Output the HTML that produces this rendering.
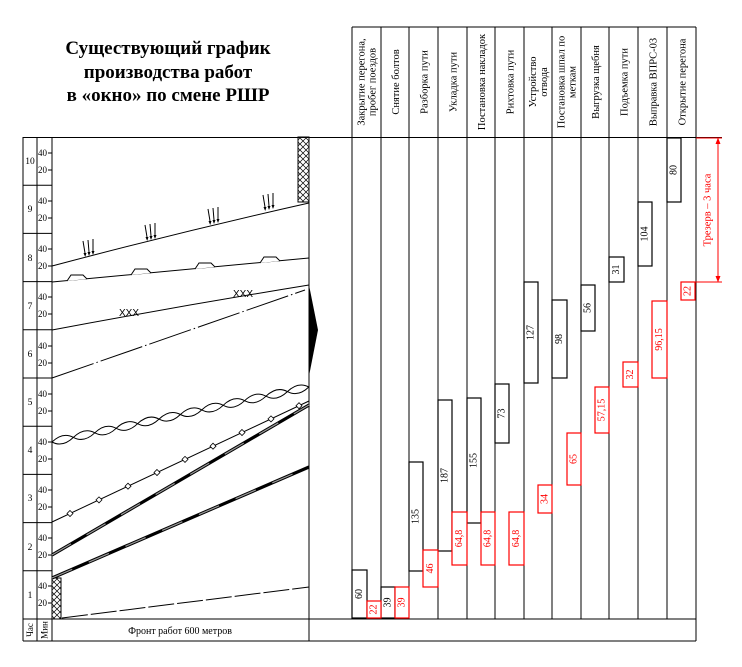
<!DOCTYPE html>
<html><head><meta charset="utf-8"><style>
html,body{margin:0;padding:0;background:#fff;}
svg{display:block;font-family:"Liberation Serif",serif;}
</style></head><body>
<svg width="742" height="667" viewBox="0 0 742 667" xmlns="http://www.w3.org/2000/svg">
<defs>
<pattern id="hx" width="6" height="6" patternUnits="userSpaceOnUse"><path d="M0,0 L6,6 M6,0 L0,6" stroke="#000" stroke-width="0.7"/></pattern>
</defs>
<g font-weight="bold" font-size="19" text-anchor="middle">
<text x="168" y="54">Существующий график</text>
<text x="168" y="78">производства работ</text>
<text x="168" y="101">в «окно» по смене РШР</text>
</g>
<g stroke="#000" stroke-width="1" fill="none">
<line x1="23" y1="137.5" x2="722" y2="137.5"/>
<line x1="23" y1="619" x2="696" y2="619"/>
<line x1="23" y1="641" x2="696" y2="641"/>
<line x1="23" y1="137" x2="23" y2="641"/>
<line x1="37" y1="137" x2="37" y2="641"/>
<line x1="52" y1="137" x2="52" y2="641"/>
<line x1="309" y1="137" x2="309" y2="641"/>
<line x1="352" y1="27" x2="696" y2="27"/>
<line x1="352" y1="27" x2="352" y2="619"/><line x1="381" y1="27" x2="381" y2="619"/><line x1="409" y1="27" x2="409" y2="619"/><line x1="438" y1="27" x2="438" y2="619"/><line x1="467" y1="27" x2="467" y2="619"/><line x1="495" y1="27" x2="495" y2="619"/><line x1="524" y1="27" x2="524" y2="619"/><line x1="552" y1="27" x2="552" y2="619"/><line x1="581" y1="27" x2="581" y2="619"/><line x1="609" y1="27" x2="609" y2="619"/><line x1="638" y1="27" x2="638" y2="619"/><line x1="667" y1="27" x2="667" y2="619"/><line x1="696" y1="27" x2="696" y2="641"/>
<line x1="23" y1="185.2" x2="52" y2="185.2"/><line x1="23" y1="233.4" x2="52" y2="233.4"/><line x1="23" y1="281.6" x2="52" y2="281.6"/><line x1="23" y1="329.8" x2="52" y2="329.8"/><line x1="23" y1="378" x2="52" y2="378"/><line x1="23" y1="426.2" x2="52" y2="426.2"/><line x1="23" y1="474.4" x2="52" y2="474.4"/><line x1="23" y1="522.6" x2="52" y2="522.6"/><line x1="23" y1="570.8" x2="52" y2="570.8"/>
</g>
<g font-size="9.5" text-anchor="middle">
<text x="30" y="164">10</text><text x="30" y="212">9</text><text x="30" y="261">8</text><text x="30" y="309">7</text><text x="30" y="357">6</text><text x="30" y="405">5</text><text x="30" y="453">4</text><text x="30" y="501">3</text><text x="30" y="550">2</text><text x="30" y="598">1</text>
</g>
<g font-size="9">
<text x="38" y="156">40</text><text x="38" y="173">20</text>
<text x="38" y="204">40</text><text x="38" y="221">20</text>
<text x="38" y="252">40</text><text x="38" y="269">20</text>
<text x="38" y="300">40</text><text x="38" y="317">20</text>
<text x="38" y="349">40</text><text x="38" y="366">20</text>
<text x="38" y="397">40</text><text x="38" y="414">20</text>
<text x="38" y="445">40</text><text x="38" y="462">20</text>
<text x="38" y="493">40</text><text x="38" y="510">20</text>
<text x="38" y="541">40</text><text x="38" y="558">20</text>
<text x="38" y="589">40</text><text x="38" y="606">20</text>
</g>
<g stroke="#000" stroke-width="1">
<path d="M48,153 H52 M48,170 H52 M48,201 H52 M48,218 H52 M48,249 H52 M48,266 H52 M48,297 H52 M48,314 H52 M48,346 H52 M48,363 H52 M48,394 H52 M48,411 H52 M48,442 H52 M48,459 H52 M48,490 H52 M48,507 H52 M48,538 H52 M48,555 H52 M48,586 H52 M48,603 H52"/>
</g>
<g font-size="9" text-anchor="middle">
<text transform="translate(30,630) rotate(-90)" dominant-baseline="central">Час</text>
<text transform="translate(44.5,630) rotate(-90)" dominant-baseline="central">Мин</text>
<text x="180" y="634" font-size="10">Фронт работ 600 метров</text>
</g>
<rect x="298" y="137" width="11" height="65" fill="url(#hx)" stroke="#000" stroke-width="1"/>
<rect x="52" y="578" width="9" height="41" fill="url(#hx)" stroke="#000" stroke-width="1"/>
<g stroke="#000" fill="none" stroke-width="1">
<path d="M52,266 Q180,232 309,203"/>
<path d="M52,282 L309,258"/>
<path d="M52,330 Q180,306 309,285"/>
<line x1="52" y1="378" x2="305" y2="290" stroke-dasharray="44,3,1.5,3"/>
<path d="M52,442 Q62.7,431.7 73.4,437.4 Q84.1,443.1 94.8,432.8 Q105.5,422.5 116.2,428.3 Q126.9,434 137.6,423.7 Q148.3,413.4 159,419.1 Q169.7,424.8 180.4,414.5 Q191.1,404.2 201.8,409.9 Q212.5,415.6 223.2,405.3 Q233.9,395 244.6,400.7 Q255.3,406.4 266,396.2 Q276.7,385.9 287.4,391.6 Q298.1,397.3 308.8,387"/>
<path d="M52,442 Q62.7,447.7 73.4,437.4 Q84.1,427.1 94.8,432.8 Q105.5,438.5 116.2,428.3 Q126.9,418 137.6,423.7 Q148.3,429.4 159,419.1 Q169.7,408.8 180.4,414.5 Q191.1,420.2 201.8,409.9 Q212.5,399.6 223.2,405.3 Q233.9,411 244.6,400.7 Q255.3,390.4 266,396.2 Q276.7,401.9 287.4,391.6 Q298.1,381.3 308.8,387"/>
<line x1="52" y1="522" x2="309" y2="401"/>
<line x1="52" y1="555" x2="309" y2="405" stroke-width="3.2"/>
<line x1="52" y1="555" x2="309" y2="405" stroke="#999" stroke-width="1.2" stroke-dasharray="22 18"/>
<line x1="52" y1="578" x2="309" y2="467" stroke-width="3.2"/>
<line x1="52" y1="578" x2="309" y2="467" stroke="#999" stroke-width="1.2" stroke-dasharray="22 18"/>
<line x1="62" y1="618" x2="309" y2="587" stroke-dasharray="26 3"/>
</g>
<polygon points="309,285 318,330 309,376" fill="#000"/>
<g fill="#fff" stroke="#000" stroke-width="0.8">
<polygon points="70,510.5 73,513.5 70,516.5 67,513.5"/><polygon points="99,496.9 102,499.9 99,502.9 96,499.9"/><polygon points="128,483.2 131,486.2 128,489.2 125,486.2"/><polygon points="157,469.5 160,472.5 157,475.5 154,472.5"/><polygon points="185,456.4 188,459.4 185,462.4 182,459.4"/><polygon points="213,443.2 216,446.2 213,449.2 210,446.2"/><polygon points="242,429.5 245,432.5 242,435.5 239,432.5"/><polygon points="271,415.9 274,418.9 271,421.9 268,418.9"/><polygon points="299,402.7 302,405.7 299,408.7 296,405.7"/>
</g>
<g fill="#fff" stroke="#000" stroke-width="1">
<path d="M67,281 L71,275 L83,275 L87,279"/>
<path d="M131,275 L135,269 L147,269 L151,273"/>
<path d="M195,269 L199,263 L211,263 L215,267"/>
<path d="M260,263 L264,257 L276,257 L280,261"/>
</g>
<g stroke="#000" stroke-width="1">
<line x1="83" y1="241" x2="85" y2="253"/><line x1="88" y1="240" x2="89" y2="252"/><line x1="93" y1="239" x2="93" y2="251"/>
<line x1="145" y1="225" x2="147" y2="237"/><line x1="150" y1="224" x2="151" y2="236"/><line x1="155" y1="223" x2="155" y2="235"/>
<line x1="208" y1="209" x2="210" y2="221"/><line x1="213" y1="208" x2="214" y2="220"/><line x1="218" y1="207" x2="218" y2="219"/>
<line x1="263" y1="195" x2="265" y2="207"/><line x1="268" y1="194" x2="269" y2="206"/><line x1="273" y1="193" x2="273" y2="205"/>
</g>
<g fill="#000">
<path d="M83.5,253 h3 l-1.3,4z M87.5,252 h3 l-1.5,4z M91.5,251 h3 l-1.5,4z"/>
<path d="M145.5,237 h3 l-1.3,4z M149.5,236 h3 l-1.5,4z M153.5,235 h3 l-1.5,4z"/>
<path d="M208.5,221 h3 l-1.3,4z M212.5,220 h3 l-1.5,4z M216.5,219 h3 l-1.5,4z"/>
<path d="M263.5,207 h3 l-1.3,4z M267.5,206 h3 l-1.5,4z M271.5,205 h3 l-1.5,4z"/>
</g>
<g font-size="10" text-anchor="middle" font-family="Liberation Sans,sans-serif">
<text x="129" y="316">XXX</text><text x="243" y="297">XXX</text>
</g>
<g font-size="10.5" text-anchor="middle">
<text transform="translate(366.5,82) rotate(-90)"><tspan x="0" dy="-2">Закрытие перегона,</tspan><tspan x="0" dy="11">пробег поездов</tspan></text>
<text transform="translate(395,82) rotate(-90)" dy="4">Снятие болтов</text>
<text transform="translate(423.5,82) rotate(-90)" dy="4">Разборка пути</text>
<text transform="translate(452.5,82) rotate(-90)" dy="4">Укладка пути</text>
<text transform="translate(481,82) rotate(-90)" dy="4">Постановка накладок</text>
<text transform="translate(509.5,82) rotate(-90)" dy="4">Рихтовка пути</text>
<text transform="translate(538,82) rotate(-90)"><tspan x="0" dy="-2">Устройство</tspan><tspan x="0" dy="11">отвода</tspan></text>
<text transform="translate(566.5,82) rotate(-90)"><tspan x="0" dy="-2">Постановка шпал по</tspan><tspan x="0" dy="11">меткам</tspan></text>
<text transform="translate(595,82) rotate(-90)" dy="4">Выгрузка щебня</text>
<text transform="translate(623.5,82) rotate(-90)" dy="4">Подъемка пути</text>
<text transform="translate(652.5,82) rotate(-90)" dy="4">Выправка ВПРС-03</text>
<text transform="translate(681.5,82) rotate(-90)" dy="4">Открытие перегона</text>
</g>
<g fill="#fff" stroke="#000" stroke-width="1.2">
<rect x="352" y="570" width="15" height="48"/>
<rect x="381" y="587" width="14" height="31"/>
<rect x="409" y="462" width="14" height="109"/>
<rect x="438" y="400" width="14" height="151"/>
<rect x="467" y="398" width="14" height="125"/>
<rect x="495" y="384" width="14" height="59"/>
<rect x="524" y="282" width="14" height="101"/>
<rect x="552" y="300" width="15" height="78"/>
<rect x="581" y="285" width="14" height="46"/>
<rect x="609" y="257" width="15" height="25"/>
<rect x="638" y="202" width="14" height="64"/>
<rect x="667" y="138" width="14" height="64"/>
</g>
<g fill="#fff" stroke="#f00" stroke-width="1.2">
<rect x="367" y="601" width="14" height="17"/>
<rect x="395" y="587" width="14" height="31"/>
<rect x="423" y="550" width="15" height="37"/>
<rect x="452" y="512" width="15" height="53"/>
<rect x="481" y="512" width="14" height="53"/>
<rect x="509" y="512" width="15" height="53"/>
<rect x="538" y="485" width="14" height="28"/>
<rect x="567" y="433" width="14" height="52"/>
<rect x="595" y="387" width="14" height="46"/>
<rect x="623" y="362" width="15" height="25"/>
<rect x="652" y="301" width="15" height="77"/>
<rect x="681" y="282" width="14" height="18"/>
</g>
<g font-size="10" text-anchor="middle" dominant-baseline="central">
<text transform="translate(359.5,594) rotate(-90)">60</text>
<text transform="translate(388,602.5) rotate(-90)">39</text>
<text transform="translate(416,516.5) rotate(-90)">135</text>
<text transform="translate(445,475.5) rotate(-90)">187</text>
<text transform="translate(474,460.5) rotate(-90)">155</text>
<text transform="translate(502,413.5) rotate(-90)">73</text>
<text transform="translate(531,332.5) rotate(-90)">127</text>
<text transform="translate(559.5,339) rotate(-90)">98</text>
<text transform="translate(588,308) rotate(-90)">56</text>
<text transform="translate(616.5,269.5) rotate(-90)">31</text>
<text transform="translate(645,234) rotate(-90)">104</text>
<text transform="translate(674,170) rotate(-90)">80</text>
</g>
<g font-size="10" text-anchor="middle" dominant-baseline="central" fill="#f00">
<text transform="translate(374,609.5) rotate(-90)">22</text>
<text transform="translate(402,602.5) rotate(-90)">39</text>
<text transform="translate(430.5,568.5) rotate(-90)">46</text>
<text transform="translate(459.5,538.5) rotate(-90)">64,8</text>
<text transform="translate(488,538.5) rotate(-90)">64,8</text>
<text transform="translate(516.5,538.5) rotate(-90)">64,8</text>
<text transform="translate(545,499) rotate(-90)">34</text>
<text transform="translate(574,459) rotate(-90)">65</text>
<text transform="translate(602,410) rotate(-90)">57,15</text>
<text transform="translate(630.5,374.5) rotate(-90)">32</text>
<text transform="translate(659.5,339.5) rotate(-90)">96,15</text>
<text transform="translate(688,291) rotate(-90)">22</text>
</g>
<g stroke="#f00" stroke-width="1">
<line x1="718" y1="138" x2="718" y2="282"/>
<line x1="696" y1="138" x2="722" y2="138"/>
<line x1="695" y1="282" x2="722" y2="282"/>
<path d="M716,144 L718,139 L720,144" fill="#f00"/>
<path d="M716,276 L718,281 L720,276" fill="#f00"/>
</g>
<text transform="translate(708,210) rotate(-90)" font-size="10.5" fill="#f00" text-anchor="middle" dominant-baseline="central">Трезерв – 3 часа</text>
</svg>
</body></html>
